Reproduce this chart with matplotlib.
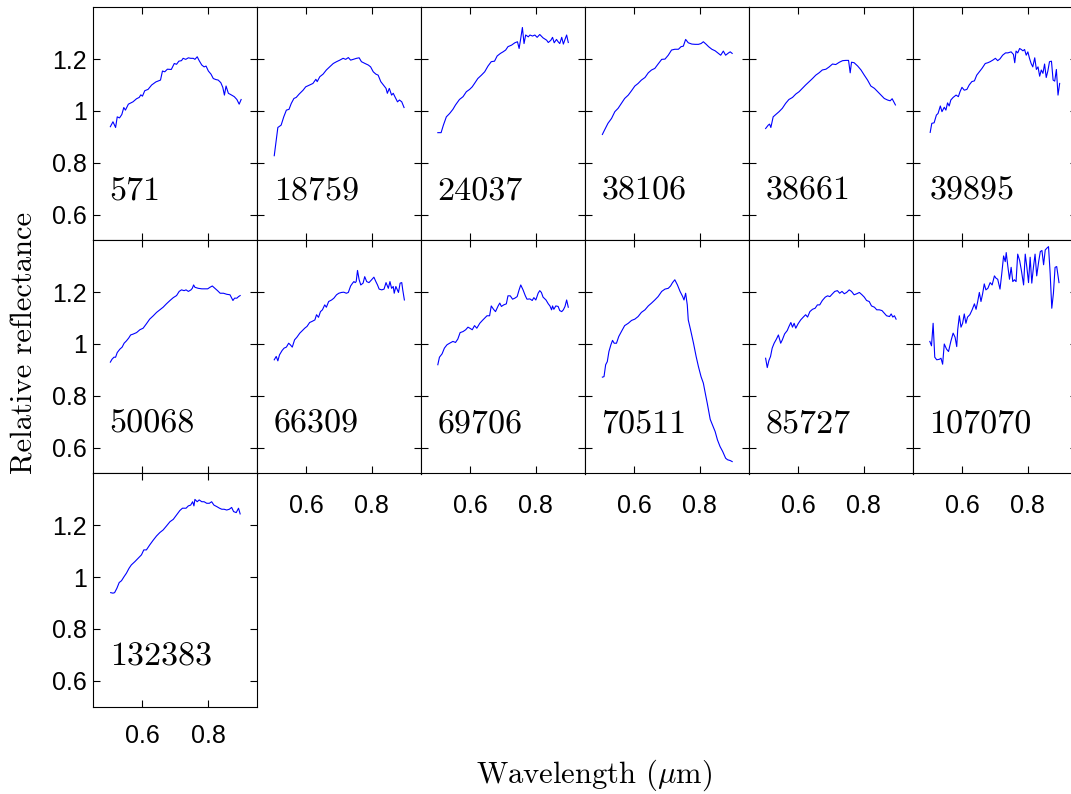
import matplotlib
matplotlib.use('Agg')
import matplotlib.pyplot as plt

plt.rcParams['font.family'] = 'Liberation Sans'
plt.rcParams['mathtext.fontset'] = 'cm'

names = ['571', '18759', '24037', '38106', '38661', '39895',
         '50068', '66309', '69706', '70511', '85727', '107070', '132383']

# wavelength (um) and relative reflectance of each asteroid spectrum
w_571 = [0.502, 0.510, 0.518, 0.523, 0.530, 0.537, 0.543, 0.548, 0.557, 0.571, 0.582, 0.590, 0.595, 0.600,
         0.607, 0.617, 0.628, 0.641, 0.655, 0.661, 0.668, 0.676, 0.688, 0.697, 0.704, 0.711, 0.719, 0.724,
         0.732, 0.740, 0.747, 0.755, 0.760, 0.767, 0.773, 0.781, 0.788, 0.794, 0.801, 0.809, 0.816, 0.824,
         0.831, 0.839, 0.845, 0.850, 0.855, 0.862, 0.872, 0.880, 0.888, 0.895, 0.901]
r_571 = [0.939, 0.958, 0.936, 0.977, 0.973, 0.986, 1.013, 1.003, 1.026, 1.035, 1.047, 1.052, 1.062, 1.057,
         1.078, 1.083, 1.100, 1.112, 1.119, 1.154, 1.151, 1.161, 1.160, 1.183, 1.180, 1.192, 1.194, 1.203,
         1.199, 1.205, 1.203, 1.203, 1.199, 1.209, 1.194, 1.177, 1.170, 1.173, 1.154, 1.142, 1.125, 1.121,
         1.119, 1.109, 1.091, 1.061, 1.096, 1.068, 1.061, 1.055, 1.044, 1.026, 1.044]

w_18759 = [0.502, 0.513, 0.523, 0.531, 0.539, 0.547, 0.554, 0.562, 0.569, 0.578, 0.590, 0.598, 0.610, 0.620,
           0.629, 0.633, 0.641, 0.651, 0.661, 0.671, 0.682, 0.692, 0.702, 0.712, 0.720, 0.728, 0.735, 0.743,
           0.753, 0.761, 0.768, 0.779, 0.789, 0.796, 0.804, 0.812, 0.819, 0.827, 0.835, 0.843, 0.847, 0.853,
           0.860, 0.865, 0.870, 0.878, 0.884, 0.891, 0.898]
r_18759 = [0.827, 0.936, 0.945, 0.977, 1.003, 1.006, 1.029, 1.048, 1.052, 1.065, 1.080, 1.093, 1.100, 1.106,
           1.122, 1.113, 1.132, 1.142, 1.158, 1.170, 1.183, 1.190, 1.196, 1.203, 1.199, 1.206, 1.196, 1.199,
           1.203, 1.205, 1.190, 1.183, 1.177, 1.170, 1.151, 1.142, 1.138, 1.113, 1.100, 1.087, 1.068, 1.087,
           1.061, 1.068, 1.055, 1.035, 1.042, 1.035, 1.013]

w_24037 = [0.501, 0.511, 0.518, 0.527, 0.537, 0.547, 0.555, 0.567, 0.578, 0.588, 0.598, 0.606, 0.613, 0.623,
           0.634, 0.644, 0.654, 0.664, 0.674, 0.682, 0.692, 0.700, 0.708, 0.715, 0.726, 0.736, 0.744, 0.749,
           0.754, 0.759, 0.764, 0.769, 0.777, 0.782, 0.790, 0.797, 0.804, 0.812, 0.822, 0.833, 0.838, 0.846,
           0.851, 0.856, 0.863, 0.868, 0.873, 0.879, 0.884, 0.889, 0.894, 0.899]
r_24037 = [0.916, 0.916, 0.945, 0.977, 0.990, 1.006, 1.023, 1.044, 1.055, 1.074, 1.083, 1.093, 1.106, 1.125,
           1.138, 1.151, 1.173, 1.190, 1.192, 1.212, 1.222, 1.228, 1.235, 1.248, 1.254, 1.263, 1.267, 1.241,
           1.280, 1.322, 1.260, 1.293, 1.286, 1.293, 1.289, 1.293, 1.284, 1.295, 1.282, 1.273, 1.264, 1.273,
           1.284, 1.263, 1.276, 1.267, 1.260, 1.284, 1.258, 1.276, 1.293, 1.264]

w_38106 = [0.503, 0.508, 0.520, 0.531, 0.541, 0.551, 0.561, 0.571, 0.582, 0.592, 0.602, 0.612, 0.622, 0.633,
           0.643, 0.653, 0.663, 0.673, 0.684, 0.694, 0.704, 0.714, 0.724, 0.735, 0.743, 0.750, 0.757, 0.765,
           0.776, 0.786, 0.796, 0.804, 0.811, 0.819, 0.827, 0.837, 0.847, 0.857, 0.864, 0.872, 0.879, 0.888,
           0.893, 0.899]
r_38106 = [0.909, 0.922, 0.952, 0.971, 0.997, 1.010, 1.029, 1.048, 1.061, 1.078, 1.096, 1.106, 1.119, 1.129,
           1.147, 1.158, 1.164, 1.181, 1.199, 1.200, 1.215, 1.235, 1.238, 1.238, 1.248, 1.250, 1.276, 1.263,
           1.258, 1.257, 1.257, 1.260, 1.267, 1.258, 1.248, 1.238, 1.232, 1.222, 1.215, 1.231, 1.215, 1.224,
           1.228, 1.222]

w_38661 = [0.501, 0.509, 0.513, 0.517, 0.524, 0.532, 0.542, 0.552, 0.562, 0.572, 0.583, 0.593, 0.603, 0.613,
           0.623, 0.634, 0.644, 0.654, 0.664, 0.674, 0.685, 0.695, 0.705, 0.715, 0.726, 0.736, 0.746, 0.754,
           0.759, 0.763, 0.771, 0.782, 0.792, 0.802, 0.812, 0.822, 0.833, 0.843, 0.853, 0.863, 0.873, 0.881,
           0.887, 0.892, 0.897]
r_38661 = [0.932, 0.945, 0.949, 0.936, 0.977, 0.986, 0.997, 1.010, 1.029, 1.044, 1.052, 1.065, 1.074, 1.087,
           1.100, 1.113, 1.125, 1.138, 1.147, 1.158, 1.161, 1.170, 1.181, 1.179, 1.188, 1.194, 1.195, 1.195,
           1.147, 1.188, 1.186, 1.173, 1.158, 1.138, 1.119, 1.096, 1.087, 1.074, 1.061, 1.048, 1.042, 1.039,
           1.047, 1.035, 1.023]

w_39895 = [0.503, 0.508, 0.515, 0.522, 0.527, 0.534, 0.539, 0.546, 0.551, 0.556, 0.561, 0.566, 0.573, 0.582,
           0.589, 0.594, 0.600, 0.607, 0.615, 0.622, 0.630, 0.638, 0.645, 0.653, 0.661, 0.671, 0.679, 0.686,
           0.694, 0.702, 0.709, 0.716, 0.724, 0.733, 0.740, 0.750, 0.757, 0.761, 0.765, 0.770, 0.776, 0.781,
           0.786, 0.791, 0.796, 0.801, 0.806, 0.811, 0.816, 0.822, 0.827, 0.832, 0.837, 0.842, 0.847, 0.852,
           0.857, 0.862, 0.867, 0.873, 0.878, 0.883, 0.888, 0.893, 0.898]
r_39895 = [0.917, 0.952, 0.954, 0.984, 0.990, 1.019, 0.997, 1.014, 1.003, 1.031, 1.019, 1.042, 1.052, 1.061,
           1.055, 1.074, 1.091, 1.080, 1.083, 1.100, 1.113, 1.116, 1.138, 1.151, 1.164, 1.183, 1.186, 1.190,
           1.196, 1.203, 1.194, 1.201, 1.215, 1.224, 1.224, 1.228, 1.218, 1.186, 1.231, 1.224, 1.241, 1.237,
           1.232, 1.237, 1.215, 1.228, 1.203, 1.183, 1.170, 1.205, 1.160, 1.170, 1.134, 1.158, 1.145, 1.181,
           1.129, 1.154, 1.190, 1.192, 1.119, 1.115, 1.160, 1.061, 1.106]

w_50068 = [0.502, 0.507, 0.513, 0.518, 0.523, 0.531, 0.538, 0.544, 0.551, 0.558, 0.564, 0.571, 0.582, 0.592,
           0.602, 0.612, 0.622, 0.633, 0.643, 0.653, 0.663, 0.673, 0.684, 0.694, 0.704, 0.712, 0.719, 0.727,
           0.733, 0.740, 0.748, 0.752, 0.756, 0.760, 0.770, 0.781, 0.791, 0.799, 0.806, 0.813, 0.821, 0.829,
           0.837, 0.847, 0.857, 0.867, 0.876, 0.881, 0.888, 0.893, 0.898]
r_50068 = [0.930, 0.941, 0.949, 0.949, 0.967, 0.980, 0.988, 1.003, 1.012, 1.023, 1.035, 1.038, 1.044, 1.055,
           1.061, 1.078, 1.096, 1.109, 1.122, 1.132, 1.142, 1.155, 1.168, 1.179, 1.187, 1.203, 1.209, 1.206,
           1.209, 1.203, 1.209, 1.215, 1.228, 1.219, 1.215, 1.213, 1.213, 1.213, 1.219, 1.224, 1.215, 1.206,
           1.196, 1.196, 1.192, 1.190, 1.168, 1.177, 1.177, 1.183, 1.187]

w_66309 = [0.502, 0.508, 0.513, 0.518, 0.526, 0.532, 0.539, 0.546, 0.551, 0.557, 0.564, 0.571, 0.580, 0.588,
           0.595, 0.602, 0.610, 0.617, 0.626, 0.631, 0.637, 0.643, 0.649, 0.656, 0.661, 0.668, 0.677, 0.684,
           0.692, 0.699, 0.707, 0.714, 0.722, 0.728, 0.735, 0.741, 0.745, 0.749, 0.752, 0.756, 0.761, 0.766,
           0.773, 0.778, 0.784, 0.791, 0.799, 0.806, 0.812, 0.817, 0.822, 0.830, 0.837, 0.843, 0.850, 0.855,
           0.860, 0.865, 0.868, 0.873, 0.881, 0.886, 0.891, 0.894, 0.899]
r_66309 = [0.939, 0.952, 0.935, 0.958, 0.975, 0.984, 0.988, 1.003, 0.997, 0.988, 1.016, 1.026, 1.042, 1.052,
           1.061, 1.068, 1.083, 1.087, 1.093, 1.113, 1.103, 1.125, 1.132, 1.151, 1.142, 1.164, 1.170, 1.177,
           1.190, 1.196, 1.199, 1.200, 1.196, 1.199, 1.224, 1.235, 1.241, 1.237, 1.241, 1.284, 1.248, 1.228,
           1.235, 1.260, 1.241, 1.237, 1.248, 1.258, 1.241, 1.228, 1.212, 1.209, 1.212, 1.237, 1.215, 1.241,
           1.215, 1.222, 1.196, 1.222, 1.199, 1.235, 1.237, 1.209, 1.170]

w_69706 = [0.501, 0.506, 0.514, 0.521, 0.529, 0.537, 0.547, 0.555, 0.562, 0.569, 0.578, 0.586, 0.593, 0.600,
           0.606, 0.613, 0.620, 0.629, 0.637, 0.644, 0.651, 0.659, 0.664, 0.671, 0.677, 0.685, 0.690, 0.695,
           0.702, 0.710, 0.715, 0.722, 0.729, 0.736, 0.743, 0.749, 0.754, 0.761, 0.768, 0.773, 0.782, 0.789,
           0.794, 0.800, 0.807, 0.812, 0.817, 0.822, 0.831, 0.838, 0.843, 0.848, 0.851, 0.855, 0.861, 0.868,
           0.873, 0.879, 0.884, 0.889, 0.894, 0.899]
r_69706 = [0.920, 0.949, 0.962, 0.984, 0.997, 1.003, 1.010, 1.006, 1.019, 1.044, 1.048, 1.055, 1.065, 1.060,
           1.055, 1.071, 1.061, 1.080, 1.091, 1.100, 1.109, 1.109, 1.147, 1.134, 1.125, 1.147, 1.158, 1.145,
           1.151, 1.155, 1.186, 1.186, 1.173, 1.177, 1.183, 1.209, 1.228, 1.209, 1.186, 1.173, 1.174, 1.168,
           1.179, 1.170, 1.196, 1.206, 1.199, 1.181, 1.170, 1.155, 1.147, 1.132, 1.147, 1.134, 1.147, 1.145,
           1.129, 1.125, 1.132, 1.145, 1.170, 1.142]

w_70511 = [0.503, 0.508, 0.513, 0.518, 0.523, 0.529, 0.534, 0.539, 0.546, 0.553, 0.561, 0.571, 0.582, 0.592,
           0.602, 0.612, 0.622, 0.633, 0.643, 0.653, 0.663, 0.673, 0.684, 0.694, 0.704, 0.711, 0.717, 0.724,
           0.732, 0.740, 0.748, 0.752, 0.757, 0.762, 0.765, 0.772, 0.781, 0.789, 0.796, 0.804, 0.811, 0.818,
           0.823, 0.832, 0.839, 0.847, 0.854, 0.862, 0.870, 0.879, 0.885, 0.893, 0.899]
r_70511 = [0.872, 0.874, 0.920, 0.932, 0.971, 0.997, 1.014, 1.003, 1.003, 1.029, 1.048, 1.071, 1.080, 1.091,
           1.096, 1.106, 1.122, 1.132, 1.147, 1.158, 1.170, 1.183, 1.203, 1.212, 1.215, 1.224, 1.237, 1.248,
           1.228, 1.203, 1.183, 1.170, 1.196, 1.151, 1.093, 1.055, 1.003, 0.952, 0.913, 0.874, 0.849, 0.803,
           0.771, 0.709, 0.687, 0.662, 0.630, 0.604, 0.585, 0.559, 0.553, 0.550, 0.546]

w_85727 = [0.501, 0.506, 0.511, 0.516, 0.521, 0.527, 0.534, 0.540, 0.547, 0.552, 0.559, 0.567, 0.572, 0.578,
           0.583, 0.588, 0.593, 0.600, 0.608, 0.616, 0.623, 0.629, 0.636, 0.644, 0.652, 0.659, 0.666, 0.674,
           0.683, 0.690, 0.697, 0.705, 0.712, 0.720, 0.727, 0.734, 0.741, 0.748, 0.756, 0.763, 0.771, 0.779,
           0.787, 0.795, 0.802, 0.809, 0.817, 0.824, 0.833, 0.840, 0.848, 0.856, 0.863, 0.870, 0.879, 0.884,
           0.889, 0.894, 0.899]
r_85727 = [0.945, 0.909, 0.936, 0.952, 0.984, 1.003, 1.019, 1.035, 1.003, 1.016, 1.039, 1.052, 1.067, 1.083,
           1.065, 1.080, 1.061, 1.078, 1.093, 1.104, 1.113, 1.104, 1.125, 1.134, 1.138, 1.151, 1.151, 1.168,
           1.181, 1.186, 1.183, 1.194, 1.203, 1.206, 1.196, 1.203, 1.194, 1.199, 1.209, 1.203, 1.190, 1.194,
           1.199, 1.190, 1.181, 1.168, 1.164, 1.147, 1.142, 1.132, 1.132, 1.129, 1.119, 1.109, 1.106, 1.116,
           1.104, 1.109, 1.096]

w_107070 = [0.502, 0.507, 0.512, 0.517, 0.523, 0.531, 0.536, 0.541, 0.546, 0.553, 0.559, 0.566, 0.573, 0.579,
            0.584, 0.587, 0.592, 0.597, 0.602, 0.607, 0.612, 0.617, 0.624, 0.631, 0.638, 0.643, 0.648, 0.653,
            0.658, 0.663, 0.668, 0.673, 0.679, 0.686, 0.692, 0.699, 0.704, 0.709, 0.716, 0.721, 0.727, 0.732,
            0.735, 0.740, 0.745, 0.750, 0.755, 0.760, 0.765, 0.770, 0.776, 0.781, 0.788, 0.793, 0.798, 0.803,
            0.808, 0.813, 0.818, 0.823, 0.828, 0.834, 0.839, 0.844, 0.849, 0.854, 0.859, 0.864, 0.869, 0.874,
            0.879, 0.884, 0.889, 0.896]
r_107070 = [1.010, 0.993, 1.080, 0.949, 0.939, 0.941, 0.945, 0.922, 1.000, 0.980, 0.971, 1.010, 1.042, 1.026,
            0.990, 1.055, 1.109, 1.065, 1.080, 1.116, 1.080, 1.104, 1.113, 1.132, 1.155, 1.134, 1.164, 1.199,
            1.164, 1.194, 1.232, 1.209, 1.215, 1.237, 1.228, 1.263, 1.254, 1.250, 1.212, 1.267, 1.340, 1.318,
            1.353, 1.299, 1.250, 1.296, 1.241, 1.248, 1.241, 1.347, 1.322, 1.286, 1.228, 1.347, 1.296, 1.237,
            1.335, 1.235, 1.296, 1.347, 1.263, 1.318, 1.357, 1.361, 1.306, 1.363, 1.370, 1.376, 1.273, 1.138,
            1.196, 1.296, 1.299, 1.237]

w_132383 = [0.503, 0.510, 0.515, 0.522, 0.529, 0.536, 0.544, 0.551, 0.559, 0.566, 0.577, 0.587, 0.597, 0.604,
            0.612, 0.622, 0.633, 0.643, 0.653, 0.663, 0.673, 0.684, 0.694, 0.704, 0.714, 0.722, 0.733, 0.740,
            0.747, 0.753, 0.757, 0.760, 0.767, 0.773, 0.781, 0.788, 0.796, 0.804, 0.811, 0.818, 0.827, 0.835,
            0.842, 0.849, 0.857, 0.865, 0.872, 0.878, 0.886, 0.893, 0.898]
r_132383 = [0.940, 0.938, 0.940, 0.957, 0.979, 0.986, 1.002, 1.015, 1.034, 1.047, 1.060, 1.073, 1.086, 1.105,
            1.105, 1.124, 1.143, 1.159, 1.172, 1.182, 1.197, 1.214, 1.223, 1.240, 1.257, 1.266, 1.266, 1.275,
            1.278, 1.291, 1.275, 1.300, 1.291, 1.298, 1.291, 1.291, 1.285, 1.285, 1.291, 1.278, 1.272, 1.266,
            1.262, 1.262, 1.259, 1.262, 1.269, 1.253, 1.249, 1.266, 1.244]

wavelengths = [w_571, w_18759, w_24037, w_38106, w_38661, w_39895, w_50068,
               w_66309, w_69706, w_70511, w_85727, w_107070, w_132383]
reflectances = [r_571, r_18759, r_24037, r_38106, r_38661, r_39895, r_50068,
                r_66309, r_69706, r_70511, r_85727, r_107070, r_132383]

x_ticks = [0.6, 0.8]
x_tick_labels = ['0.6', '0.8']
y_ticks = [0.6, 0.8, 1.0, 1.2]
y_tick_labels = ['0.6', '0.8', '1', '1.2']

W, H = 1071, 794
fig = plt.figure(figsize=(W / 100, H / 100), dpi=100)

# panel grid in pixels: 6 columns, 3 rows
left0, top0, pw, ph = 93.3, 7.3, 163.9, 233.1

for i, (name, wl, refl) in enumerate(zip(names, wavelengths, reflectances)):
    row, col = divmod(i, 6)
    ax = fig.add_axes([(left0 + pw * col) / W, 1 - (top0 + ph * (row + 1)) / H, pw / W, ph / H])
    ax.plot(wl, refl, color='#0000ff', lw=0.8)
    ax.set_xlim(0.45, 0.95)
    ax.set_ylim(0.5, 1.4)
    ax.set_xticks(x_ticks)
    ax.set_xticklabels(x_tick_labels)
    ax.set_yticks(y_ticks)
    ax.set_yticklabels(y_tick_labels)
    for s in ax.spines.values():
        s.set_linewidth(0.8)
    ax.tick_params(direction='in', top=True, right=True, length=5.2, width=0.8, labelsize=18)
    show_x = row == 2 or (row == 1 and col > 0)
    ax.tick_params(axis='x', labelbottom=show_x, pad=12.5 if row == 2 else 14.5)
    ax.tick_params(axis='y', labelleft=(col == 0), pad=4.5)
    ax.text(0.1, 0.176, name, transform=ax.transAxes, fontsize=24.5,
            family='cmr10', va='baseline', ha='left')

fig.text(594 / W, 1 - 782.7 / H, r'Wavelength ($\mu$m)', family='cmr10',
         fontsize=22, ha='center', va='baseline')
fig.text(33 / W, 1 - 342.5 / H, 'Relative reflectance', family='cmr10',
         fontsize=22, rotation=90, rotation_mode='anchor', ha='center', va='baseline')

fig.savefig('out.png', dpi=100)
